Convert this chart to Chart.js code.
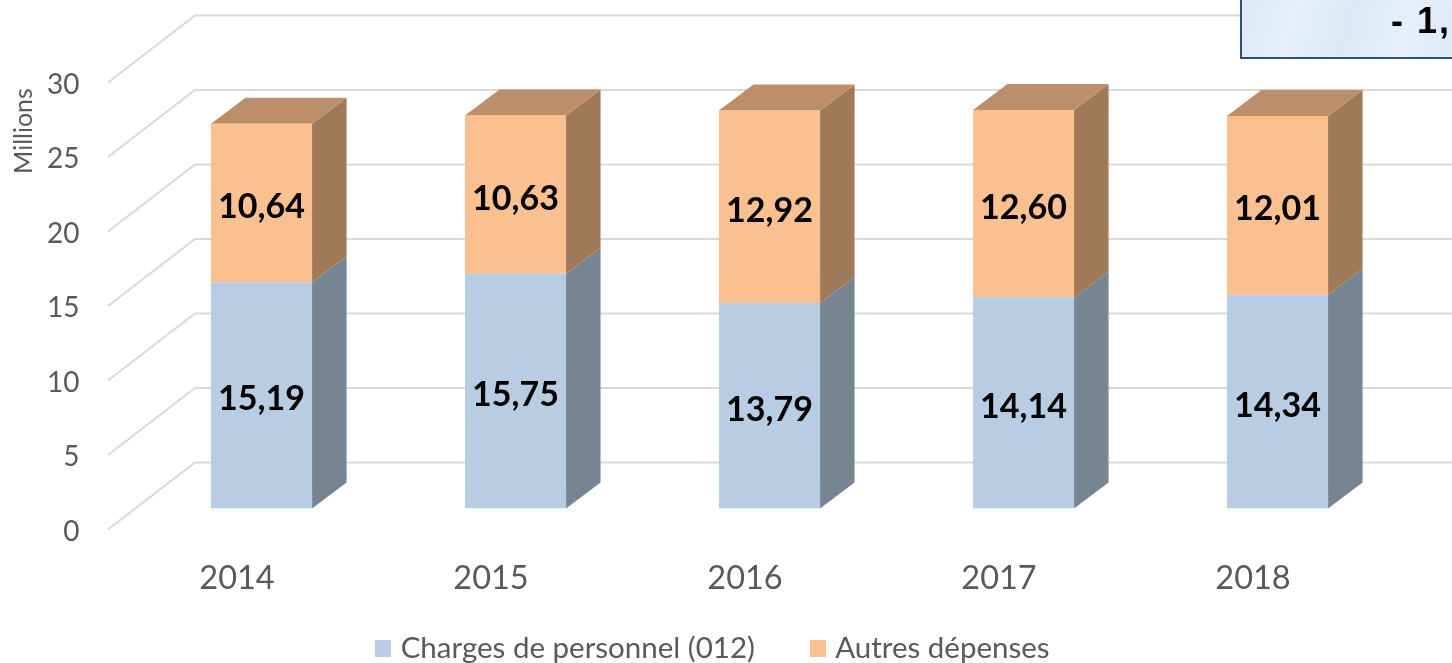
<!DOCTYPE html>
<html><head><meta charset="utf-8">
<style>html,body{margin:0;padding:0;background:#fff;overflow:hidden}canvas{display:block}</style>
<script src="https://cdn.jsdelivr.net/npm/chart.js@4"></script>
</head><body><canvas id="c" width="1452" height="663"></canvas>
<script>
const years = ['2014','2015','2016','2017','2018'];
const personnel = [15.19,15.75,13.79,14.14,14.34];
const autres = [10.64,10.63,12.92,12.60,12.01];
const seriesNames = ['Charges de personnel (012)','Autres dépenses'];
const yTicks = [0,5,10,15,20,25,30];
const axisTitle = 'Millions';
const calloutText = '- 1,';

const frontColors = ['#B8CCE4','#FAC08F'];
const sideColors = ['#778593','#A07A58'];
const topColor = '#BC8E6A';
const gridColor = '#D9D9D9';
const textColor = '#595959';

const wall = {frontX:-26.5, frontY:21, backX:60.5, backY:-46};
const depth = {x:34.5, y:-26};

const swatches = frontColors.map(col=>{
  const cv = document.createElement('canvas');
  cv.width = 16; cv.height = 17;
  const cx = cv.getContext('2d');
  cx.fillStyle = col; cx.fillRect(0,0,16,17);
  return cv;
});

const scene = {
  id:'scene',
  beforeLayout(chart){
    const lg = chart.legend;
    if(!lg._fitWrapped){
      const fit = lg.fit;
      lg.fit = function(){ fit.call(this); this.height = 89.5; };
      lg._fitWrapped = true;
    }
  },
  afterLayout(chart){
    chart.scales.x.bottom = 640;
  },
  beforeDatasetsDraw(chart){
    const {ctx, scales:{x,y}} = chart;
    ctx.save();
    ctx.strokeStyle = gridColor; ctx.lineWidth = 2;
    yTicks.forEach(v=>{
      const p = y.getPixelForValue(v);
      ctx.beginPath();
      ctx.moveTo(x.left+wall.frontX, p+wall.frontY);
      ctx.lineTo(x.left+wall.backX, p+wall.backY);
      ctx.lineTo(chart.width+20, p+wall.backY);
      ctx.stroke();
    });
    chart.data.datasets.forEach((ds,i)=>{
      chart.getDatasetMeta(i).data.forEach(b=>{
        const r = b.x+b.width/2, l = b.x-b.width/2;
        ctx.fillStyle = sideColors[i];
        ctx.beginPath();
        ctx.moveTo(r,b.base); ctx.lineTo(r+depth.x,b.base+depth.y);
        ctx.lineTo(r+depth.x,b.y+depth.y); ctx.lineTo(r,b.y);
        ctx.closePath(); ctx.fill();
        if(i===chart.data.datasets.length-1){
          ctx.fillStyle = topColor;
          ctx.beginPath();
          ctx.moveTo(l,b.y); ctx.lineTo(l+depth.x,b.y+depth.y);
          ctx.lineTo(r+depth.x,b.y+depth.y); ctx.lineTo(r,b.y);
          ctx.closePath(); ctx.fill();
        }
      });
    });
    ctx.restore();
  },
  afterDatasetsDraw(chart){
    const {ctx} = chart;
    ctx.save();
    ctx.fillStyle = '#000';
    ctx.font = 'bold 34px Lato';
    ctx.textAlign = 'center'; ctx.textBaseline = 'middle';
    chart.data.datasets.forEach((ds,i)=>{
      chart.getDatasetMeta(i).data.forEach((b,j)=>{
        ctx.fillText(ds.data[j].toFixed(2).replace('.',','), b.x, (b.y+b.base)/2+4);
      });
    });
    ctx.save();
    ctx.translate(24,131); ctx.rotate(-Math.PI/2);
    ctx.fillStyle = textColor; ctx.font = '25px Lato';
    ctx.fillText(axisTitle,0,0);
    ctx.restore();
    const g = ctx.createLinearGradient(1241,0,1452,58);
    g.addColorStop(0,'#DCE8F4'); g.addColorStop(.25,'#E6EFF8'); g.addColorStop(.5,'#DCE8F5');
    g.addColorStop(.75,'#E6EFF9'); g.addColorStop(1,'#DDE9F5');
    ctx.fillStyle = g; ctx.fillRect(1241,-2,215,60);
    ctx.strokeStyle = '#2F5078'; ctx.lineWidth = 2;
    ctx.strokeRect(1241,-4,220,62);
    ctx.fillStyle = '#000'; ctx.font = 'bold 36px "Liberation Sans"';
    ctx.letterSpacing = '2px';
    ctx.textAlign = 'left'; ctx.textBaseline = 'alphabetic';
    ctx.fillText(calloutText,1391,33);
    ctx.restore();
  }
};

new Chart(document.getElementById('c'),{
  type:'bar',
  data:{labels:years,datasets:[
    {label:seriesNames[0],data:personnel,backgroundColor:frontColors[0],stack:'s'},
    {label:seriesNames[1],data:autres,backgroundColor:frontColors[1],stack:'s'}
  ]},
  options:{
    responsive:false,animation:false,
    layout:{padding:{left:25.5,right:47.5,top:61.5,bottom:0}},
    datasets:{bar:{categoryPercentage:1,barPercentage:0.398}},
    scales:{
      x:{stacked:true,grid:{display:false,drawTicks:false},border:{display:false},
        afterFit(s){s.height=65;s.paddingLeft=0;s.paddingRight=0;},
        ticks:{color:textColor,font:{family:'Lato',size:32.5},padding:51,labelOffset:-24.5,maxRotation:0,autoSkip:false}},
      y:{stacked:true,min:0,max:30,grid:{display:false,drawTicks:false},border:{display:false},
        afterFit(s){s.width=109;s.paddingTop=0;s.paddingBottom=0;},
        afterBuildTicks(s){s.ticks=yTicks.map(v=>({value:v}));},
        ticks:{color:textColor,font:{family:'Lato',size:28},padding:55,labelOffset:23}}
    },
    plugins:{
      tooltip:{enabled:false},
      legend:{position:'bottom',labels:{usePointStyle:true,pointStyleWidth:5.5,padding:60,color:textColor,font:{family:'Lato',size:29.5},
        generateLabels(chart){
          return Chart.defaults.plugins.legend.labels.generateLabels(chart).map((it,i)=>({...it,pointStyle:swatches[i]}));
        }}}
    }
  },
  plugins:[scene]
});
</script></body></html>
